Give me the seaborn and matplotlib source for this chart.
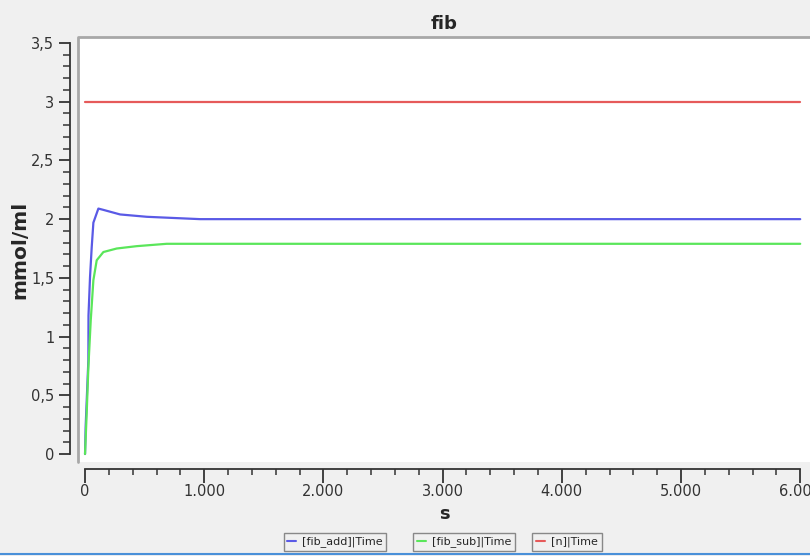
import numpy as np
import seaborn as sns
import matplotlib.pyplot as plt
from matplotlib.ticker import FuncFormatter, MultipleLocator
from matplotlib.lines import Line2D

# values
add_t = [0, 5, 28, 29, 42, 56, 70, 112, 150, 294, 518, 965, 6000]
add_v = [0, 0.23, 0.80, 1.18, 1.51, 1.76, 1.97, 2.09, 2.08, 2.04, 2.02, 2.00, 2.00]
sub_t = [0, 14, 28, 48, 70, 98, 154, 266, 434, 685, 6000]
sub_v = [0, 0.35, 0.74, 1.14, 1.48, 1.65, 1.72, 1.75, 1.77, 1.79, 1.79]
n_t = [0, 6000]
n_v = [3.0, 3.0]
labels = ["[fib_add]|Time", "[fib_sub]|Time", "[n]|Time"]
colors = ["#5a5ae6", "#5ae65a", "#e65a5a"]

sns.set_style("white")
plt.rcParams['font.family'] = ['DejaVu Sans']

fig = plt.figure(figsize=(8.1, 5.56), dpi=100, facecolor="#f0f0f0")
ax = fig.add_axes([78 / 810, 1 - 462 / 556, 732 / 810, 425 / 556])
ax.set_facecolor("white")

sns.lineplot(x=add_t, y=add_v, ax=ax, color=colors[0], lw=1.6)
sns.lineplot(x=sub_t, y=sub_v, ax=ax, color=colors[1], lw=1.6)
sns.lineplot(x=n_t, y=n_v, ax=ax, color=colors[2], lw=1.6)

ax.set_xlim(-59, 6082)
ax.set_ylim(-0.068, 3.551)

for s in ["top", "right"]:
    ax.spines[s].set_visible(False)
ax.spines["left"].set_position(("outward", 6))
ax.spines["bottom"].set_position(("outward", 5))
ax.spines["left"].set_bounds(0, 3.5)
ax.spines["bottom"].set_bounds(0, 6000)
for s in ["left", "bottom"]:
    ax.spines[s].set_color("#333333")
    ax.spines[s].set_linewidth(1.3)

ax.yaxis.set_major_locator(MultipleLocator(0.5))
ax.yaxis.set_minor_locator(MultipleLocator(0.1))
ax.xaxis.set_major_locator(MultipleLocator(1000))
ax.xaxis.set_minor_locator(MultipleLocator(200))
ax.yaxis.set_major_formatter(FuncFormatter(lambda v, p: f"{v:g}".replace(".", ",")))
ax.xaxis.set_major_formatter(FuncFormatter(lambda v, p: f"{int(round(v)):,}".replace(",", ".") if v else "0"))
ax.tick_params(which="major", width=1.3, color="#333333", labelsize=10.5,
               labelcolor="#333333", pad=3)
ax.tick_params(which="minor", width=1.1, color="#333333")
ax.tick_params(axis="y", which="major", length=8)
ax.tick_params(axis="y", which="minor", length=5)
ax.tick_params(axis="x", which="major", length=10, pad=1)
ax.tick_params(axis="x", which="minor", length=4)
ax.tick_params(axis="x", which="both", bottom=True)
ax.tick_params(axis="y", which="both", left=True)

# sunken canvas border (top and left only)
ax.plot([0, 0, 1], [0, 1, 1], transform=ax.transAxes, color="#a8a8a8", lw=2, clip_on=False)

ax.set_title("fib", fontsize=13, fontweight="bold", pad=6)
ax.set_ylabel("mmol/ml", fontsize=14.5, fontweight="bold", labelpad=1)
ax.set_xlabel("s", fontsize=13, fontweight="bold", labelpad=4)

xs = [335, 464, 567]
for lab, col, xc in zip(labels, colors, xs):
    h = Line2D([], [], color=col, lw=1.5)
    fig.legend(handles=[h], labels=[lab], loc="center", bbox_to_anchor=(xc / 810, 1 - 542 / 556),
               fontsize=8, frameon=True, fancybox=False, edgecolor="#888888",
               handlelength=0.8, handletextpad=0.5, borderpad=0.35, framealpha=1,
               facecolor="#f0f0f0")

fig.add_artist(Line2D([0, 1], [1 - 554 / 556] * 2, color="#4a90d9", lw=1.5))

fig.savefig("out.png", dpi=100, facecolor=fig.get_facecolor())
